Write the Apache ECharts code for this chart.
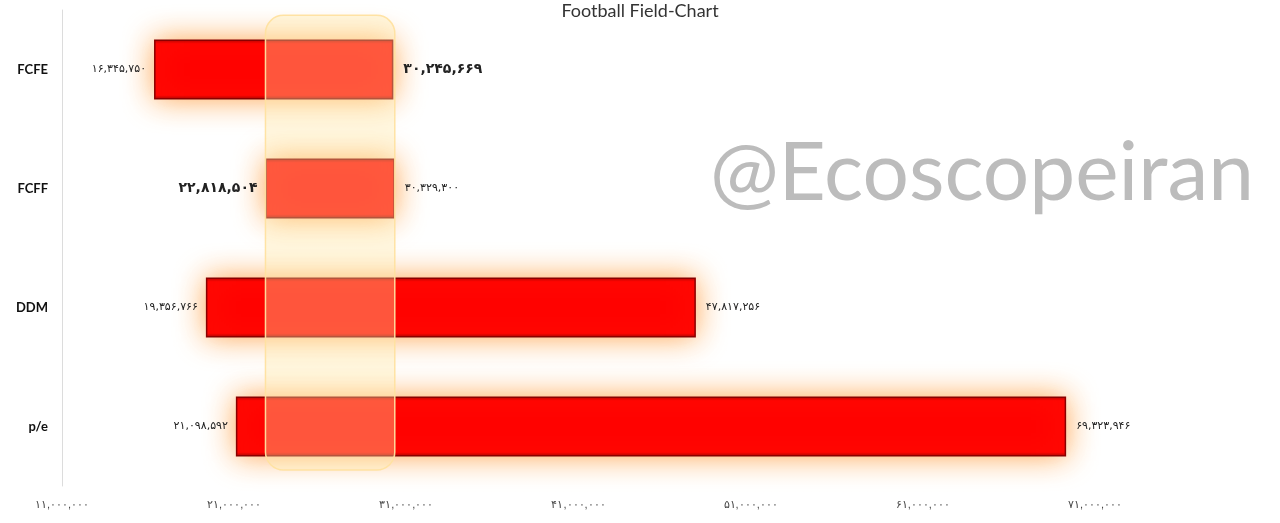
<!DOCTYPE html>
<html><head><meta charset="utf-8">
<script src="https://cdn.jsdelivr.net/npm/echarts@6/dist/echarts.min.js"></script>
<style>html,body{margin:0;padding:0;background:#fff}#c{width:1280px;height:523px}</style>
</head><body><div id="c"></div>
<script>
const categories = ['FCFE', 'FCFF', 'DDM', 'p/e'];
const lowValues = [16345750, 22818504, 19356766, 21098592];
const highValues = [30245669, 30329300, 47817256, 69323946];
const bandRange = [22818504, 30329300];
const axisMin = 11000000, axisMax = 71000000, axisStep = 10000000;

const digits = '۰۱۲۳۴۵۶۷۸۹';
function fa(n){ return Math.round(n).toLocaleString('en-US').replace(/\d/g, d => digits[d]); }

const lowBold = [false, true, false, false];
const highBold = [true, false, false, false];

const chart = echarts.init(document.getElementById('c'));
const redFill = {
  type: 'linear', x: 0, y: 0, x2: 0, y2: 1,
  colorStops: [{offset:0,color:'#b00000'},{offset:0.07,color:'#ff0000'},{offset:0.93,color:'#ff0000'},{offset:1,color:'#a00000'}]
};
chart.setOption({
  animation: false,
  title: { text: 'Football Field-Chart', left: 'center', top: -3,
    textStyle: { fontFamily: 'Lato', fontWeight: 'normal', fontSize: 18, color: '#333' } },
  graphic: [{ type: 'text', left: 710, top: 133, z: 0,
    style: { text: '@Ecoscopeiran', fontFamily: 'Lato', fontSize: 82, fill: '#bcbcbc' } }],
  grid: { left: 62, right: 185, top: 10, bottom: 37 },
  xAxis: { type: 'value', min: axisMin, max: axisMax, interval: axisStep,
    axisLine: { show: false }, axisTick: { show: false }, splitLine: { show: false },
    axisLabel: { margin: 13, fontSize: 11, color: '#444', formatter: v => fa(v) } },
  yAxis: { type: 'category', data: categories, inverse: true,
    axisLine: { show: true, lineStyle: { color: '#dcdcdc' } }, axisTick: { show: false },
    axisLabel: { margin: 14, fontFamily: 'Lato', fontWeight: 'bold', fontSize: 13, color: '#111' } },
  series: [
    { type: 'bar', stack: 'r', silent: true, barWidth: 60,
      itemStyle: { color: 'rgba(0,0,0,0)' },
      data: lowValues.map((v, i) => ({ value: v,
        label: { show: true, position: 'insideRight', distance: 8,
          formatter: fa(v), color: '#222', fontFamily: 'DejaVu Sans',
          fontSize: lowBold[i] ? 14 : 11, fontWeight: lowBold[i] ? 'bold' : 'normal' } })) },
    { type: 'bar', stack: 'r', silent: true, barWidth: 60,
      itemStyle: { color: redFill, borderColor: '#8a0000', borderWidth: 1.5,
        shadowBlur: 30, shadowColor: 'rgba(255,150,50,0.85)' },
      data: highValues.map((v, i) => ({ value: v - lowValues[i],
        label: { show: true, position: 'right', distance: 10,
          formatter: fa(v), color: '#222', fontFamily: 'DejaVu Sans',
          fontSize: highBold[i] ? 14 : 11, fontWeight: highBold[i] ? 'bold' : 'normal' } })) },
    { type: 'custom', silent: true, z: 10,
      data: [[bandRange[0], bandRange[1]]],
      encode: { x: [0, 1] },
      renderItem: function (params, api) {
        const bw = api.size([0, 1])[1];
        const p1 = api.coord([api.value(0), 0]);
        const p2 = api.coord([api.value(1), categories.length - 1]);
        const yTop = p1[1] - bw * 0.455;
        const yBot = p2[1] + bw * 0.365;
        return { type: 'rect',
          shape: { x: p1[0], y: yTop, width: p2[0] - p1[0], height: yBot - yTop, r: 18 },
          style: { fill: 'rgba(255,232,165,0.36)', stroke: 'rgba(255,225,160,0.95)', lineWidth: 1.5 } };
      } }
  ]
});
</script></body></html>
